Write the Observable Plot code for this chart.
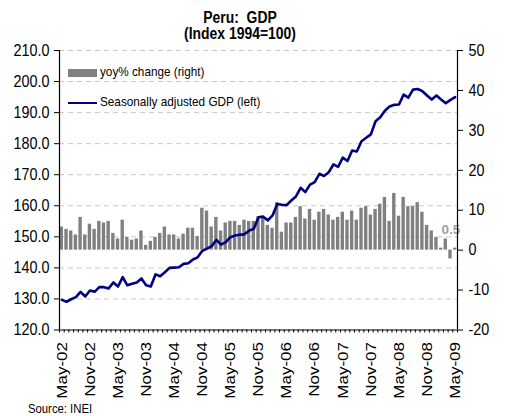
<!DOCTYPE html>
<html><head><meta charset="utf-8">
<script src="https://cdn.jsdelivr.net/npm/d3@7"></script>
<script src="https://cdn.jsdelivr.net/npm/@observablehq/plot@0.6"></script>
<style>
body{margin:0;background:#fff;}
#wrap{position:relative;width:531px;height:416px;overflow:hidden;font-family:"Liberation Sans",Arial,sans-serif;}
.t{position:absolute;white-space:pre;color:#000;line-height:1;}
</style></head><body><div id="wrap"></div>
<script>
// yoy % change (right axis), May-02 .. May-09
const yoy = [5.8,5.2,4.8,3.8,8.2,3.8,6.5,5.2,7.2,6.8,7.2,4.2,2.8,7.5,3.2,2.5,2.8,4.8,1.2,2.2,
 3.2,4.2,5.8,3.8,3.8,2.8,4.0,5.5,5.5,3.4,10.5,9.8,5.8,8.2,4.8,6.8,7.2,7.2,6.2,7.5,
 7.2,7.2,8.4,8.5,6.2,5.5,11.9,4.5,6.8,6.8,8.2,10.9,7.8,10.2,7.5,9.5,10.2,8.8,7.5,8.2,
 9.5,7.5,9.8,7.5,10.5,10.9,8.8,10.2,11.5,13.2,7.2,14.2,8.5,13.2,10.9,10.9,11.9,9.5,6.2,4.8,
 3.2,0.5,2.8,-2.2,0.5];
// Seasonally adjusted GDP index (left axis)
const gdp = [129.7,129.1,129.9,130.6,132.3,130.8,132.7,132.3,133.8,133.8,133.4,135.3,134.0,137.0,134.4,134.9,135.3,136.6,134.4,134.0,
 137.9,137.3,138.6,140.0,140.1,140.2,141.3,141.5,142.7,143.4,145.5,146.2,147.0,149.0,147.5,148.3,149.9,150.4,150.7,150.8,
 152.0,152.6,156.3,156.5,155.3,156.9,160.6,160.3,160.2,161.7,163.0,165.8,164.4,166.8,167.6,170.3,169.6,170.8,173.3,172.5,
 175.5,174.4,177.8,177.5,180.8,181.9,183.0,187.2,188.5,190.6,192.0,192.5,192.6,195.8,194.8,197.4,197.6,196.9,195.5,194.2,
 195.5,194.2,193.0,194.1,195.0];
const tickLabels = ["May-02","Nov-02","May-03","Nov-03","May-04","Nov-04","May-05","Nov-05","May-06","Nov-06","May-07","Nov-07","May-08","Nov-08","May-09"];
const leftTicks = [120,130,140,150,160,170,180,190,200,210];
const rightTicks = [-20,-10,0,10,20,30,40,50];
const title1 = "Peru:  GDP";
const title2 = "(Index 1994=100)";
const legendBar = "yoy% change (right)";
const legendLine = "Seasonally adjusted GDP (left)";
const source = "Source: INEI";

const L0 = leftTicks[0], L1 = leftTicks[leftTicks.length-1];
const R0 = rightTicks[0], R1 = rightTicks[rightTicks.length-1];
const toLeft = v => L0 + (v - R0) * (L1 - L0) / (R1 - R0);
const fromLeft = y => R0 + (y - L0) * (R1 - R0) / (L1 - L0);
const idx = d3.range(gdp.length);
const n = gdp.length;
const font = '"Liberation Sans",Arial,sans-serif';

const chart = Plot.plot({
  width: 531, height: 416,
  marginLeft: 59, marginRight: 74, marginTop: 50, marginBottom: 86.5,
  x: {type: "linear", domain: [-0.5, n - 0.5]},
  y: {domain: [L0, L1]},
  style: {fontFamily: font, fontSize: "16.5px", color: "#000", background: "transparent", overflow: "visible"},
  marks: [
    Plot.ruleY(leftTicks.filter(d => d > L0), {y: d => d, stroke: "#c8c8c8", strokeDasharray: "5,4", strokeWidth: 1}),
    Plot.rectY(idx, {x1: i => i - 0.36, x2: i => i + 0.36, y1: () => toLeft(0), y2: i => toLeft(yoy[i]), fill: "#808080"}),
    Plot.line(idx, {x: i => i, y: i => gdp[i], stroke: "#000080", strokeWidth: 2.6, curve: "linear"}),
    Plot.text([n - 1], {x: i => i - 0.9, y: i => toLeft(yoy[i]), text: i => yoy[i].toFixed(1), dy: -18, fill: "#a0a0a0", fontWeight: "bold", fontSize: 13.5, fontFamily: font}),
    Plot.ruleX([-0.5, n - 0.5], {x: d => d, y1: L0, y2: L1, stroke: "#000", strokeWidth: 1.2}),
    Plot.ruleY([L0], {y: d => d, stroke: "#000", strokeWidth: 1.2}),
    Plot.axisY(leftTicks, {anchor: "left", tickSize: 5, tickPadding: 5, tickFormat: d => d.toFixed(1), fontSize: 16.5, fontFamily: font}),
    Plot.axisY(rightTicks.map(toLeft), {anchor: "right", tickSize: 5, tickPadding: 6, tickFormat: d => String(Math.round(fromLeft(d))), fontSize: 16.5, fontFamily: font}),
    Plot.axisX(d3.range(n + 1).map(i => i - 0.5), {anchor: "bottom", tickSize: 3, tickFormat: () => ""}),
    Plot.axisX(tickLabels.map((d, k) => k * 6), {anchor: "bottom", tickSize: 0, tickPadding: 12, tickRotate: -90, tickFormat: d => tickLabels[d / 6], fontSize: 17, fontFamily: font})
  ]
});

// Narrow the horizontally-set axis text (the source chart is horizontally compressed)
function squeeze(textEl, sx, sy) {
  const tr = textEl.getAttribute("transform");
  if (tr) {
    textEl.setAttribute("transform", tr + ` scale(${sx},${sy})`);
  } else {
    const x = +textEl.getAttribute("x") || 0, y = +textEl.getAttribute("y") || 0;
    textEl.removeAttribute("x"); textEl.removeAttribute("y");
    textEl.setAttribute("transform", `translate(${x},${y}) scale(${sx},${sy})`);
  }
}
chart.querySelectorAll('g[aria-label="y-axis tick label"] text').forEach(t => squeeze(t, 0.87, 1));
chart.querySelectorAll('g[aria-label="x-axis tick label"] text').forEach(t => squeeze(t, 1, 0.87));

const wrap = document.getElementById("wrap");
chart.style.position = "absolute";
chart.style.left = "0px";
chart.style.top = "0px";
wrap.appendChild(chart);

function addText(txt, css, origin) {
  const d = document.createElement("div");
  d.className = "t";
  d.textContent = txt;
  Object.assign(d.style, css);
  d.style.transform = "scaleX(0.87)";
  d.style.transformOrigin = origin || "left center";
  wrap.appendChild(d);
  return d;
}
addText(title1, {left: "0px", width: "480px", textAlign: "center", top: "9.5px", fontSize: "16px", fontWeight: "bold"}, "240px 50%");
addText(title2, {left: "0px", width: "480px", textAlign: "center", top: "26px", fontSize: "16px", fontWeight: "bold"}, "240px 50%");
const sw1 = document.createElement("div");
Object.assign(sw1.style, {position: "absolute", left: "68px", top: "69px", width: "29px", height: "8px", background: "#808080"});
wrap.appendChild(sw1);
const sw2 = document.createElement("div");
Object.assign(sw2.style, {position: "absolute", left: "68px", top: "101.8px", width: "29px", height: "2.6px", background: "#000080"});
wrap.appendChild(sw2);
addText(legendBar, {left: "100px", top: "65px", fontSize: "13.5px"});
addText(legendLine, {left: "100px", top: "95px", fontSize: "13.5px"});
addText(source, {left: "28px", top: "402px", fontSize: "13px"});
</script></body></html>
